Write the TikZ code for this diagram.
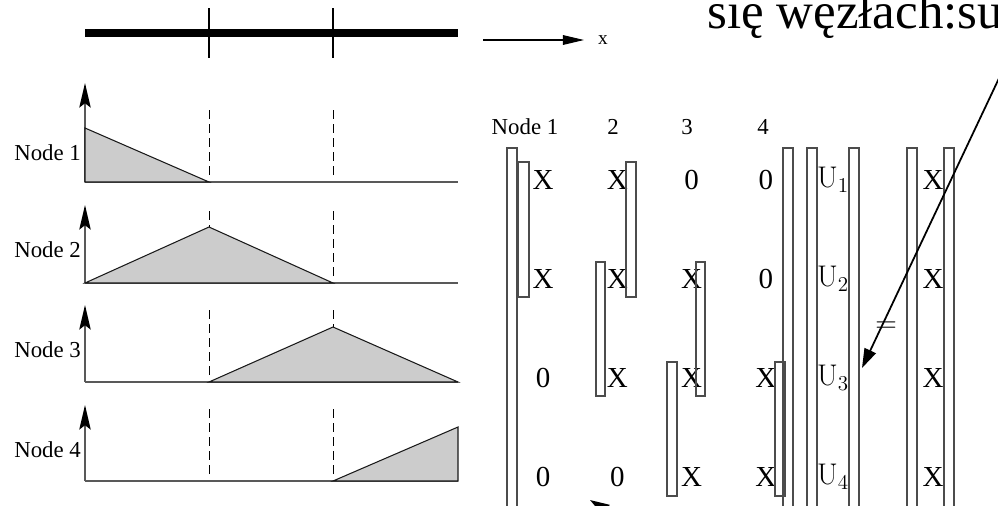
\documentclass[tikz,border=0pt]{standalone}
\usepackage{fontspec}
\newfontfamily\tmfont{Liberation Serif}
\usetikzlibrary{arrows.meta}

\tikzset{
  yaxis/.style={draw=gray!70!black, line width=0.8pt, -{Stealth[length=14pt,width=6.5pt,inset=2.5pt,color=black]}},
  basisfn/.style={fill=gray!40, draw=gray!20!black, line width=0.6pt},
  baseline/.style={draw=gray!70!black, line width=0.8pt},
  guide/.style={draw=black, line width=0.5pt, dash pattern=on 5pt off 3pt},
  bracket/.style={draw=gray!60!black, line width=0.6pt},
  pointer/.style={draw=black, line width=1pt, -{Triangle[length=11pt,width=7pt]}},
  lbl/.style={font=\tmfont\fontsize{13}{13}\selectfont, inner sep=1pt},
  entry/.style={font=\tmfont\fontsize{16.5}{16.5}\selectfont, inner sep=0pt},
  unk/.style={font=\fontsize{17}{17}\selectfont, inner sep=0pt}
}

\begin{document}
\begin{tikzpicture}[x=0.02cm, y=-0.02cm]
  \useasboundingbox (0,0) rectangle (998,505);
  \clip (0,0) rectangle (998,505);

  % pret i wezly
  \draw[line width=4.5pt] (85,33) -- (458,33);
  \draw[line width=0.6pt] (209,8) -- (209,58);
  \draw[line width=0.6pt] (333,8) -- (333,58);
  \coordinate (xs) at (483,40);
  \coordinate (xe) at (584,40);
  \draw[line width=0.6pt, -{Triangle[length=12pt,width=5.5pt]}] (xs) -- (xe);
  \node[lbl, font=\tmfont\fontsize{11}{11}\selectfont] (xlab) at (603,40) {x};

  % funkcje ksztaltu
  \foreach \b/\t in {182/83, 283/205, 382/305, 481/405} {
    \draw[guide] (209,\b-7) -- (209,\b-75);
    \draw[guide] (333,\b-7) -- (333,\b-75);
    \draw[baseline] (85,\b) -- (458,\b);
    \draw[yaxis] (85,\b) -- (85,\t);
  }
  \draw[basisfn] (85,182) -- (85,128) -- (209,182) -- cycle;
  \draw[basisfn] (85,283) -- (209,227) -- (333,283) -- cycle;
  \draw[basisfn] (209,382) -- (333,327) -- (458,382) -- cycle;
  \draw[basisfn] (333,481) -- (458,427) -- (458,481) -- cycle;

  \node[lbl, anchor=east] (n1) at (83,153) {Node 1};
  \node[lbl, anchor=east] (n2) at (83,250) {Node 2};
  \node[lbl, anchor=east] (n3) at (83,350) {Node 3};
  \node[lbl, anchor=east] (n4) at (83,450) {Node 4};

  % macierz
  \node[lbl] (h1) at (525,127) {Node 1};
  \node[lbl] (h2) at (613,127) {2};
  \node[lbl] (h3) at (687,127) {3};
  \node[lbl] (h4) at (763,127) {4};

  \foreach \row [count=\r] in {{X,X,0,0},{X,X,X,0},{0,X,X,X},{0,0,X,X}} {
    \foreach \e [count=\c] in \row {
      \node[entry] (e\r\c) at ({543+(\c-1)*74.3},{180+(\r-1)*99}) {\e};
    }
    \node[unk] (u\r) at (833,{180+(\r-1)*99}) {U$_\r$};
    \node[entry] (f\r) at (933,{180+(\r-1)*99}) {X};
  }
  \node[unk] (eq) at (886,327) {=};

  % nawiasy
  \draw[bracket] (507,148) rectangle (517,520);
  \draw[bracket] (518,162) rectangle (529,297);
  \draw[bracket] (626,162) rectangle (636,297);
  \draw[bracket] (596,262) rectangle (605,396);
  \draw[bracket] (696,262) rectangle (705,396);
  \draw[bracket] (667,362) rectangle (677,496);
  \draw[bracket] (775,362) rectangle (785,496);
  \draw[bracket] (783,148) rectangle (793,520);
  \draw[bracket] (807,148) rectangle (817,520);
  \draw[bracket] (849,148) rectangle (859,520);
  \draw[bracket] (907,148) rectangle (917,520);
  \draw[bracket] (944,148) rectangle (954,520);

  % opis i strzalki
  \node[anchor=base west, inner sep=0pt, font=\tmfont\fontsize{29}{29}\selectfont] (note) at (707,28) {się węzłach:su};
  \coordinate (from) at (1001,74);
  \coordinate (to) at (862,368);
  \draw[pointer] (from) -- (to);
  \coordinate (from2) at (670,550);
  \coordinate (to2) at (590,500);
  \draw[pointer] (from2) -- (to2);
\end{tikzpicture}
\end{document}
